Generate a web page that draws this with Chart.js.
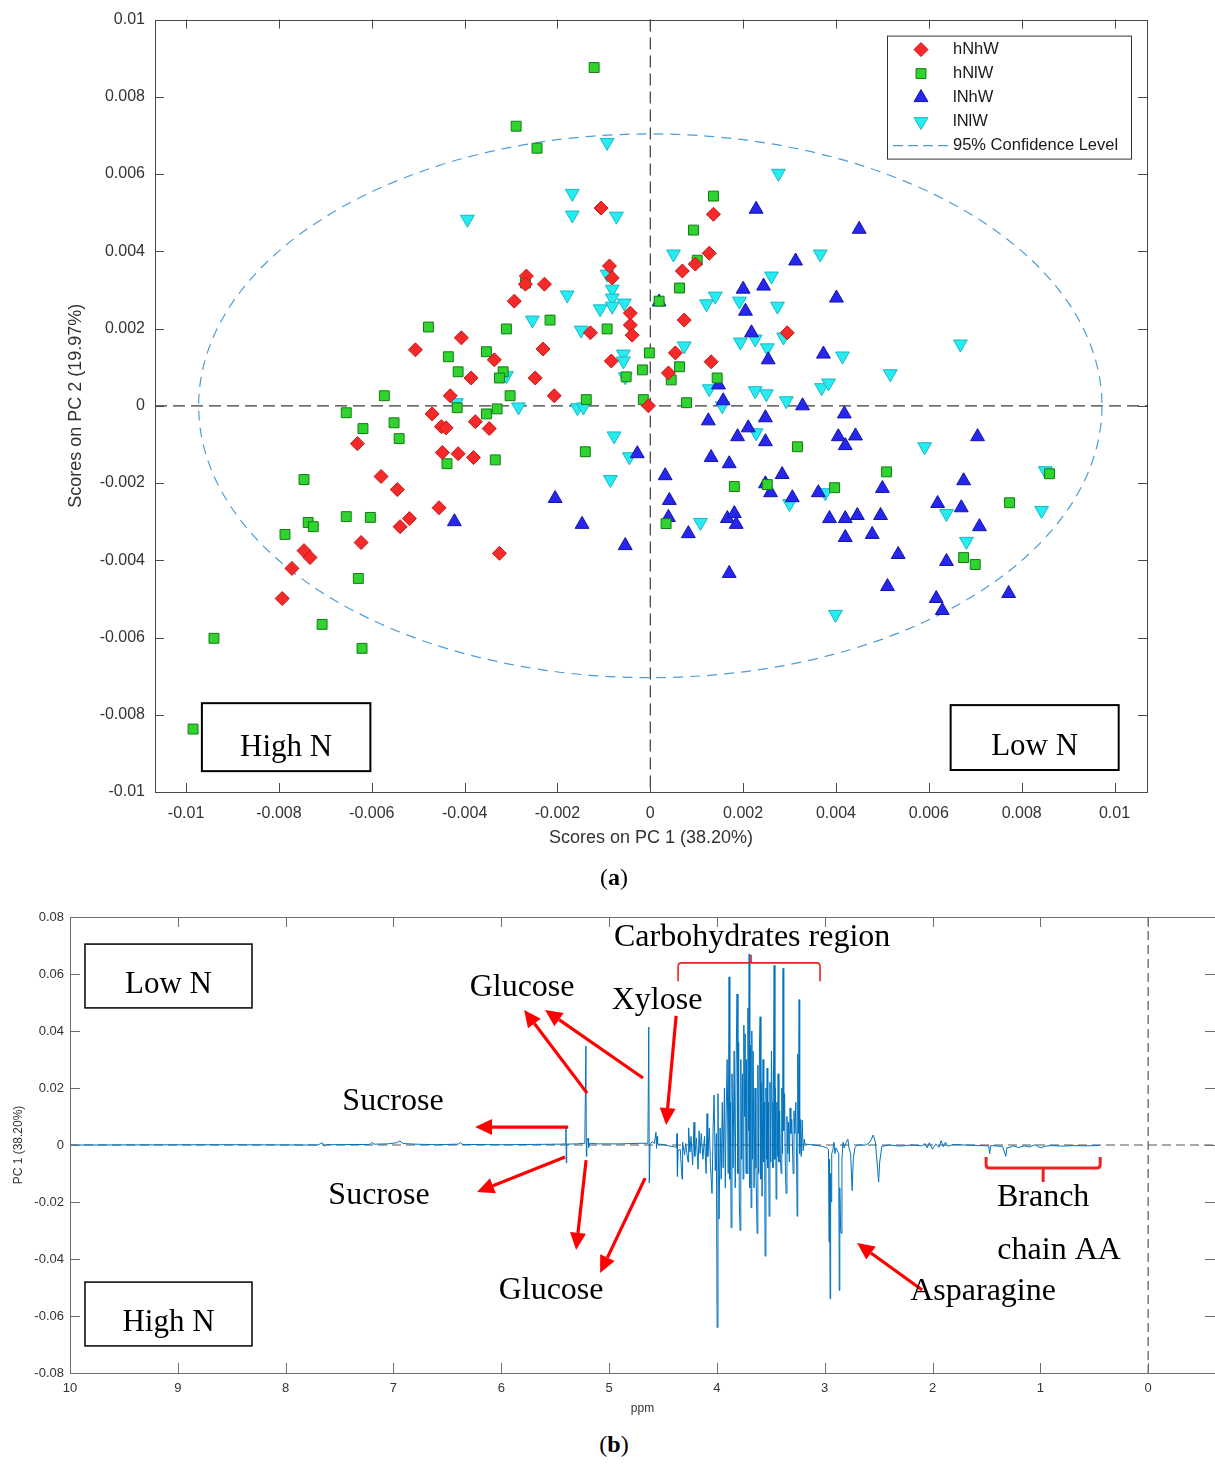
<!DOCTYPE html>
<html>
<head>
<meta charset="utf-8">
<title>PCA scores and PC1 loadings</title>
<script src="https://cdn.jsdelivr.net/npm/chart.js@4.4.0/dist/chart.umd.min.js"></script>
<style>
  body { margin: 0; background: #fff; width: 1215px; height: 1464px; position: relative; overflow: hidden; }
  canvas { position: absolute; left: 0; }
  #pca { top: 0; }
  #spec { top: 900px; }
  .cap { position: absolute; left: 0; width: 1228px; text-align: center; font: 24px "Liberation Serif", "Times New Roman", serif; color: #000; }
</style>
</head>
<body>
<canvas id="pca" width="1215" height="870"></canvas>
<div class="cap" style="top:864px">(<b>a</b>)</div>
<canvas id="spec" width="1215" height="520"></canvas>
<div class="cap" style="top:1431px">(<b>b</b>)</div>
<script>
// ---- (a) PCA scores, [PC1, PC2] per sample ----
const hNhW = [
  [-0.00106, 0.00512], [-0.00088, 0.00362], [-0.00082, 0.00331], [0.00136, 0.00496], [0.00127, 0.00395],
  [0.00097, 0.00367], [0.00069, 0.00349], [-0.00043, 0.0024], [-0.00043, 0.00209], [-0.00039, 0.00183],
  [-0.00129, 0.00189], [0.00073, 0.00222], [0.00295, 0.00189], [-0.00084, 0.00116], [0.00054, 0.00137],
  [0.00131, 0.00114], [0.00039, 0.00085], [-0.00004, 0.0], [-0.00267, 0.00336], [-0.00269, 0.00315],
  [-0.00228, 0.00315], [-0.00293, 0.00271], [-0.00407, 0.00176], [-0.00506, 0.00145], [-0.00231, 0.00147],
  [-0.00336, 0.00119], [-0.00386, 0.00072], [-0.00248, 0.00072], [-0.00431, 0.00026], [-0.00207, 0.00026],
  [-0.0047, -0.00021], [-0.0045, -0.00054], [-0.0044, -0.00057], [-0.00377, -0.00041], [-0.00347, -0.00059],
  [-0.00631, -0.00098], [-0.00448, -0.00121], [-0.00414, -0.00124], [-0.00381, -0.00134], [-0.0058, -0.00183],
  [-0.00545, -0.00217], [-0.00455, -0.00264], [-0.00519, -0.00292], [-0.00539, -0.00313], [-0.00623, -0.00354],
  [-0.00746, -0.00375], [-0.00733, -0.00393], [-0.00772, -0.00421], [-0.00793, -0.00499], [-0.00325, -0.00382]
];
const hNlW = [
  [-0.00121, 0.00876], [-0.00289, 0.00724], [-0.00244, 0.00667], [0.00136, 0.00543], [0.00093, 0.00455],
  [0.00101, 0.00377], [0.00063, 0.00305], [0.00019, 0.00271], [-0.00093, 0.00199], [-0.00002, 0.00137],
  [-0.00017, 0.00093], [-0.00052, 0.00075], [0.00063, 0.00101], [0.00045, 0.00067], [0.00144, 0.00072],
  [-0.00015, 0.00016], [0.00078, 0.00008], [-0.00138, 0.00016], [-0.00269, 0.00318], [-0.00216, 0.00222],
  [-0.00478, 0.00204], [-0.0031, 0.00199], [-0.00435, 0.00127], [-0.00353, 0.0014], [-0.00414, 0.00088],
  [-0.00317, 0.00088], [-0.00325, 0.00072], [-0.00573, 0.00026], [-0.00302, 0.00026], [-0.00416, -0.00005],
  [-0.0033, -0.00008], [-0.00353, -0.00021], [-0.00655, -0.00018], [-0.00619, -0.00059], [-0.00552, -0.00044],
  [-0.00541, -0.00085], [-0.0014, -0.00119], [-0.00334, -0.0014], [-0.00438, -0.0015], [-0.00746, -0.00191],
  [-0.00737, -0.00302], [-0.00726, -0.00313], [-0.00655, -0.00287], [-0.00603, -0.00289], [-0.00787, -0.00333],
  [-0.00629, -0.00447], [-0.00707, -0.00566], [-0.0094, -0.00602], [-0.00621, -0.00628], [-0.00985, -0.00837],
  [0.00317, -0.00106], [0.00509, -0.00171], [0.00397, -0.00212], [0.00181, -0.00209], [0.00252, -0.00204],
  [0.00034, -0.00305], [0.00774, -0.00251], [0.0086, -0.00176], [0.00675, -0.00393], [0.007, -0.00411]
];
const lNhW = [
  [0.00228, 0.00509], [0.0045, 0.00457], [0.00313, 0.00375], [0.002, 0.00302], [0.00244, 0.0031],
  [0.00401, 0.00279], [0.00019, 0.00269], [0.00205, 0.00245], [0.00218, 0.00189], [0.00254, 0.00119],
  [0.00373, 0.00134], [0.00147, 0.00054], [0.00157, 0.00013], [0.00328, 0.0], [0.00418, -0.00021],
  [0.00248, -0.00031], [0.00125, -0.00039], [0.00211, -0.00057], [0.00188, -0.0008], [0.00405, -0.0008],
  [0.00442, -0.00078], [0.0042, -0.00103], [0.00248, -0.00093], [-0.00028, -0.00124], [0.00131, -0.00134],
  [0.0017, -0.0015], [0.00032, -0.00181], [0.00284, -0.00178], [0.00248, -0.00202], [0.00259, -0.00225],
  [0.00306, -0.00238], [0.00362, -0.00225], [0.00041, -0.00245], [0.00039, -0.00289], [0.00082, -0.00331],
  [0.00166, -0.00292], [0.00181, -0.00279], [0.00185, -0.00307], [0.0017, -0.00434], [0.00386, -0.00292],
  [0.0042, -0.00292], [0.00446, -0.00284], [0.0042, -0.00341], [0.00478, -0.00333], [0.00496, -0.00284],
  [0.005, -0.00214], [0.00534, -0.00385], [0.00511, -0.00468], [0.00616, -0.00499], [0.00629, -0.0053],
  [0.00619, -0.00253], [0.00638, -0.00403], [0.0067, -0.00264], [0.00675, -0.00194], [0.00709, -0.00313],
  [0.00705, -0.0008], [0.00772, -0.00486], [-0.00205, -0.0024], [-0.00147, -0.00307], [-0.00054, -0.00362],
  [-0.00422, -0.003]
];
const lNlW = [
  [-0.00093, 0.00682], [0.00276, 0.00602], [-0.00168, 0.0055], [-0.00168, 0.00494], [-0.00073, 0.00491],
  [-0.00394, 0.00483], [0.0005, 0.00393], [0.00366, 0.00393], [0.00261, 0.00336], [-0.00093, 0.00341],
  [-0.00082, 0.00302], [-0.00082, 0.00279], [-0.00082, 0.00258], [-0.00056, 0.00266], [-0.00108, 0.00251],
  [-0.00179, 0.00287], [0.0014, 0.00284], [0.00121, 0.00264], [0.00192, 0.00271], [0.00274, 0.00258],
  [-0.00149, 0.00196], [-0.00254, 0.00222], [0.00194, 0.00165], [0.00226, 0.00173], [0.00252, 0.0015],
  [0.00287, 0.00178], [0.00414, 0.00129], [0.00073, 0.00155], [0.00668, 0.0016], [-0.00058, 0.00134],
  [-0.00058, 0.00116], [-0.00054, 0.00075], [-0.0031, 0.00078], [0.00517, 0.00083], [0.00127, 0.00044],
  [0.00226, 0.00039], [0.0025, 0.00031], [0.00293, 0.00013], [0.00369, 0.00047], [0.00384, 0.00059],
  [0.00155, 0.0], [-0.00418, 0.00008], [-0.00284, -0.00003], [-0.00157, -0.00005], [-0.00144, -0.00003],
  [-0.00078, -0.00078], [-0.00045, -0.00132], [-0.00086, -0.00191], [0.00228, -0.0007], [0.00108, -0.00302],
  [0.003, -0.00253], [0.00377, -0.00225], [0.00591, -0.00106], [0.00638, -0.00279], [0.00681, -0.00351],
  [0.00851, -0.00168], [0.00843, -0.00271], [0.00399, -0.0054]
];
const pcaTicks = [-0.01, -0.008, -0.006, -0.004, -0.002, 0, 0.002, 0.004, 0.006, 0.008, 0.01];
const pcaTickLabels = ['-0.01', '-0.008', '-0.006', '-0.004', '-0.002', '0', '0.002', '0.004', '0.006', '0.008', '0.01'];
const ellipseRadius = [0.00973, 0.00704]; // 95% confidence level, centred on 0,0

// ---- (b) PC1 loadings over the 1H NMR spectrum ----
const spectrumPpm = [
  10.0, 8.6, 7.7, 7.66, 7.64, 7.62, 7.22, 7.2, 7.18, 7.05, 6.97, 6.94, 6.91, 6.8, 6.6, 6.4, 6.38, 6.36, 6.0, 5.7,
  5.45, 5.405, 5.4, 5.397, 5.393, 5.3, 5.225, 5.215, 5.211, 5.206, 5.195, 5.19, 5.18, 5.1, 4.9, 4.7, 4.64, 4.632, 4.627, 4.62,
  4.6, 4.58, 4.565, 4.56, 4.555, 4.55, 4.5, 4.45, 4.4, 4.375, 4.37, 4.366, 4.36, 4.34, 4.323, 4.318, 4.3, 4.29, 4.267, 4.262,
  4.25, 4.24, 4.225, 4.212, 4.205, 4.19, 4.175, 4.165, 4.156, 4.145, 4.13, 4.115, 4.1, 4.091, 4.085, 4.07, 4.06, 4.045, 4.035, 4.026,
  4.015, 4.005, 3.998, 3.99, 3.98, 3.97, 3.96, 3.95, 3.942, 3.93, 3.922, 3.915, 3.905, 3.895, 3.887, 3.88, 3.875, 3.868, 3.86, 3.85,
  3.84, 3.83, 3.822, 3.813, 3.805, 3.798, 3.792, 3.785, 3.778, 3.77, 3.762, 3.757, 3.75, 3.744, 3.738, 3.73, 3.725, 3.72, 3.712, 3.706,
  3.701, 3.695, 3.689, 3.683, 3.676, 3.67, 3.664, 3.655, 3.646, 3.638, 3.627, 3.62, 3.612, 3.605, 3.599, 3.592, 3.586, 3.581, 3.572, 3.565,
  3.558, 3.553, 3.545, 3.54, 3.534, 3.528, 3.522, 3.516, 3.508, 3.5, 3.494, 3.488, 3.48, 3.469, 3.462, 3.456, 3.451, 3.444, 3.438, 3.432,
  3.425, 3.418, 3.411, 3.404, 3.398, 3.391, 3.386, 3.38, 3.372, 3.365, 3.358, 3.35, 3.342, 3.335, 3.328, 3.321, 3.314, 3.305, 3.293, 3.285,
  3.276, 3.268, 3.26, 3.256, 3.25, 3.244, 3.237, 3.232, 3.225, 3.218, 3.209, 3.2, 3.19, 3.182, 3.1, 3.02, 2.98, 2.965, 2.96, 2.955,
  2.95, 2.945, 2.94, 2.935, 2.925, 2.915, 2.905, 2.895, 2.87, 2.865, 2.86, 2.852, 2.848, 2.84, 2.83, 2.82, 2.8, 2.785, 2.775, 2.76,
  2.745, 2.735, 2.72, 2.7, 2.62, 2.58, 2.55, 2.53, 2.51, 2.5, 2.49, 2.47, 2.4, 2.3, 2.2, 2.1, 2.07, 2.05, 2.03, 2.0,
  1.97, 1.94, 1.92, 1.9, 1.88, 1.86, 1.8, 1.7, 1.55, 1.48, 1.47, 1.46, 1.35, 1.32, 1.31, 1.28, 1.25, 1.2, 1.15, 1.1,
  1.05, 1.0, 0.95, 0.9, 0.8, 0.7, 0.6, 0.45
];
const spectrumPc1 = [
  0, 0.0001, 0, 0.0008, -0.0004, 0.0001, 0.0002, 0.0009, 0.0003, 0.0004, 0.0008, 0.0014, 0.0005, 0.0003, 0.0001, 0.0003, 0.0009, 0.0002, 0.0001, 0.0002,
  0.0003, 0.0004, 0.0063, -0.0063, 0.0003, 0.0004, 0.0006, 0.0347, -0.004, 0.0012, 0.0024, -0.001, 0.0006, 0.0004, 0.0004, 0.0006, 0.0006, 0.0414, -0.0133, 0.0002,
  0.0012, 0.0005, 0.0045, -0.0012, 0.003, 0.0003, 0.0002, -0.0003, -0.0006, -0.0008, 0.004, -0.011, -0.002, -0.0015, -0.012, 0.001, -0.0035, 0.0005, -0.006, 0.006,
  -0.0025, 0.003, -0.007, 0.008, -0.004, 0.0025, -0.0085, 0.005, -0.003, 0.004, -0.005, 0.003, -0.01, 0.011, -0.004, 0.006, -0.007, -0.017, 0.006, 0.0175,
  -0.009, 0.004, -0.064, 0.018, -0.026, 0.006, -0.012, 0.015, -0.008, 0.02, -0.015, 0.0088, 0.03, -0.01, 0.059, -0.012, 0.015, -0.029, 0.025, -0.008,
  0.033, -0.015, 0.028, 0.053, -0.01, 0.036, -0.02, -0.03, 0.03, -0.005, 0.025, -0.012, 0.042, 0.01, 0.039, -0.01, 0.03, -0.01, 0.048, 0.005,
  0.067, -0.015, 0.035, -0.022, 0.04, -0.005, 0.033, -0.015, 0.02, -0.008, -0.031, 0.028, -0.01, 0.035, 0.045, -0.012, 0.022, -0.018, 0.03, -0.006,
  0.015, -0.039, 0.02, -0.005, 0.027, -0.008, 0.015, -0.025, 0.022, -0.006, 0.033, 0.015, -0.008, 0.063, -0.005, 0.02, -0.019, 0.015, -0.004, 0.025,
  -0.006, 0.012, -0.005, -0.01, 0.02, -0.003, 0.062, 0.005, 0.018, -0.008, -0.017, 0.01, -0.003, 0.008, -0.006, 0.013, 0.004, 0.009, -0.01, 0.012,
  0.004, 0.015, -0.008, -0.025, 0.032, 0.004, 0.051, -0.003, 0.009, -0.004, 0.0088, -0.002, 0.002, 0.0003, 0, -0.0005, -0.001, -0.0015, -0.034, -0.005,
  -0.054, -0.01, -0.02, -0.003, -0.002, 0.001, -0.003, -0.001, -0.003, -0.051, -0.015, -0.03, -0.031, -0.005, 0.001, -0.001, 0.001, 0.002, -0.001, -0.003,
  -0.016, -0.005, -0.001, 0, 0, 0.001, 0.0035, 0.001, -0.008, -0.013, -0.006, -0.0005, 0, -0.0004, 0, -0.0003, 0.0005, -0.001, 0.0008, -0.0015,
  0.0004, -0.0008, 0.0015, -0.0006, 0.001, -0.0004, 0.0002, 0, -0.0002, -0.0003, -0.003, -0.0002, -0.0005, -0.004, -0.001, -0.0008, -0.0003, -0.0009, -0.0003, -0.0007,
  0.0001, -0.001, -0.0004, -0.0002, -0.0004, -0.0002, -0.0003, -0.0002
];
const ppmTicks = [10, 9, 8, 7, 6, 5, 4, 3, 2, 1, 0];
const pc1Ticks = [-0.08, -0.06, -0.04, -0.02, 0, 0.02, 0.04, 0.06, 0.08];
const pc1TickLabels = ['-0.08', '-0.06', '-0.04', '-0.02', '0', '0.02', '0.04', '0.06', '0.08'];

const sans = '"Liberation Sans", Arial, sans-serif';
const serif = '"Liberation Serif", "Times New Roman", serif';

// marker look of each group
const groups = [
  { label: 'hNhW', data: hNhW, shape: 'rectRot', r: 7, rot: 0, fill: '#f42a2a', edge: '#c81616' },
  { label: 'hNlW', data: hNlW, shape: 'rect', r: 7, rot: 0, fill: '#2fd42f', edge: '#147a14' },
  { label: 'lNhW', data: lNhW, shape: 'triangle', r: 8, rot: 0, fill: '#2626ee', edge: '#1414a8' },
  { label: 'lNlW', data: lNlW, shape: 'triangle', r: 8, rot: 180, fill: '#26ecf0', edge: '#18b8c8' }
];

function drawMarker(ctx, g, x, y) {
  ctx.save();
  ctx.fillStyle = g.fill; ctx.strokeStyle = g.edge; ctx.lineWidth = 1;
  ctx.beginPath();
  if (g.shape === 'rectRot') {
    ctx.moveTo(x, y - g.r); ctx.lineTo(x + g.r, y); ctx.lineTo(x, y + g.r); ctx.lineTo(x - g.r, y);
  } else if (g.shape === 'rect') {
    const s = g.r * Math.SQRT1_2;
    ctx.rect(x - s, y - s, 2 * s, 2 * s);
  } else {
    const d = g.rot ? -1 : 1, h = g.r * 0.866;
    ctx.moveTo(x, y - d * g.r); ctx.lineTo(x + h, y + d * g.r / 2); ctx.lineTo(x - h, y + d * g.r / 2);
  }
  ctx.closePath(); ctx.fill(); ctx.stroke();
  ctx.restore();
}

// box round the plot with MATLAB style inward ticks on all four sides
function drawFrame(chart, xt, yt, len, color) {
  const { ctx, chartArea: a, scales: { x, y } } = chart;
  ctx.save();
  ctx.strokeStyle = color; ctx.lineWidth = 1; ctx.setLineDash([]);
  ctx.strokeRect(Math.round(a.left) + 0.5, Math.round(a.top) + 0.5, Math.round(a.right - a.left), Math.round(a.bottom - a.top));
  ctx.beginPath();
  xt.forEach(v => {
    const px = Math.round(x.getPixelForValue(v)) + 0.5;
    ctx.moveTo(px, a.bottom); ctx.lineTo(px, a.bottom - len);
    ctx.moveTo(px, a.top); ctx.lineTo(px, a.top + len);
  });
  yt.forEach(v => {
    const py = Math.round(y.getPixelForValue(v)) + 0.5;
    ctx.moveTo(a.left, py); ctx.lineTo(a.left + len, py);
    ctx.moveTo(a.right, py); ctx.lineTo(a.right - len, py);
  });
  ctx.stroke();
  ctx.restore();
}

function zeroLines(chart, color, dash) {
  const { ctx, chartArea: a, scales: { x, y } } = chart;
  const px = x.getPixelForValue(0), py = y.getPixelForValue(0);
  ctx.save();
  ctx.strokeStyle = color; ctx.lineWidth = 1.2; ctx.setLineDash(dash);
  ctx.beginPath();
  ctx.moveTo(a.left, py); ctx.lineTo(a.right, py);
  ctx.moveTo(px, a.top); ctx.lineTo(px, a.bottom);
  ctx.stroke();
  ctx.restore();
}

function labelBox(ctx, x1, y1, x2, y2, text, size, lw) {
  ctx.save();
  ctx.fillStyle = '#fff'; ctx.fillRect(x1, y1, x2 - x1, y2 - y1);
  ctx.strokeStyle = '#000'; ctx.lineWidth = lw; ctx.strokeRect(x1, y1, x2 - x1, y2 - y1);
  ctx.fillStyle = '#000'; ctx.font = size + 'px ' + serif;
  ctx.textAlign = 'center'; ctx.textBaseline = 'alphabetic';
  ctx.fillText(text, (x1 + x2) / 2, y2 - 15);
  ctx.restore();
}

const pcaDecor = {
  id: 'pcaDecor',
  beforeDatasetsDraw(chart) {
    const { ctx, scales: { x, y } } = chart;
    zeroLines(chart, '#3a3a3a', [12, 6]);
    ctx.save();
    ctx.strokeStyle = '#4d9dd6'; ctx.lineWidth = 1.2; ctx.setLineDash([10, 7]);
    ctx.beginPath();
    ctx.ellipse(x.getPixelForValue(0), y.getPixelForValue(0),
      x.getPixelForValue(ellipseRadius[0]) - x.getPixelForValue(0),
      y.getPixelForValue(0) - y.getPixelForValue(ellipseRadius[1]), 0, 0, Math.PI * 2);
    ctx.stroke();
    ctx.restore();
  },
  afterDatasetsDraw(chart) {
    const { ctx, chartArea: a, scales: { x, y } } = chart;
    drawFrame(chart, pcaTicks, pcaTicks, 9, '#4a4a4a');

    // group boxes
    labelBox(ctx, x.getPixelForValue(-0.00966), y.getPixelForValue(-0.0077), x.getPixelForValue(-0.00603), y.getPixelForValue(-0.00946), 'High N', 31, 2);
    labelBox(ctx, x.getPixelForValue(0.00647), y.getPixelForValue(-0.00775), x.getPixelForValue(0.01009), y.getPixelForValue(-0.00943), 'Low N', 31, 2);

    // legend
    const lx = a.right - 260, ly = a.top + 16, rowH = 24;
    ctx.save();
    ctx.fillStyle = '#fff'; ctx.fillRect(lx, ly, 244, 123);
    ctx.strokeStyle = '#333'; ctx.lineWidth = 1; ctx.strokeRect(lx + 0.5, ly + 0.5, 244, 123);
    ctx.font = '16.5px ' + sans; ctx.fillStyle = '#1a1a1a'; ctx.textBaseline = 'middle';
    groups.forEach((g, i) => {
      const ry = ly + 14 + i * rowH;
      drawMarker(ctx, g, lx + 34, ry);
      ctx.fillText(g.label, lx + 66, ry);
    });
    const ry = ly + 14 + 4 * rowH;
    ctx.strokeStyle = '#4d9dd6'; ctx.setLineDash([10, 5]); ctx.lineWidth = 1.2;
    ctx.beginPath(); ctx.moveTo(lx + 6, ry); ctx.lineTo(lx + 64, ry); ctx.stroke();
    ctx.fillText('95% Confidence Level', lx + 66, ry);
    ctx.restore();
  }
};

new Chart(document.getElementById('pca'), {
  type: 'scatter',
  data: {
    datasets: groups.map(g => ({
      label: g.label,
      data: g.data.map(([px, py]) => ({ x: px, y: py })),
      pointStyle: g.shape,
      pointRadius: g.r,
      pointRotation: g.rot,
      backgroundColor: g.fill,
      borderColor: g.edge,
      borderWidth: 1
    }))
  },
  options: {
    responsive: false,
    animation: false,
    layout: { padding: { left: 65, right: 68, top: 18, bottom: 21 } },
    plugins: { legend: { display: false }, tooltip: { enabled: false } },
    scales: {
      x: {
        type: 'linear', min: -0.01067, max: 0.0107,
        grid: { display: false, drawTicks: false }, border: { display: false },
        afterBuildTicks: s => { s.ticks = pcaTicks.map(v => ({ value: v })); },
        afterFit: s => { s.height = 57; },
        ticks: { autoSkip: false, maxRotation: 0, padding: 12, color: '#333', font: { family: sans, size: 16 },
          callback: (v, i) => pcaTickLabels[i] },
        title: { display: true, text: 'Scores on PC 1 (38.20%)', padding: 0, color: '#333', font: { family: sans, size: 18 } }
      },
      y: {
        type: 'linear', min: -0.01, max: 0.01,
        grid: { display: false, drawTicks: false }, border: { display: false },
        afterBuildTicks: s => { s.ticks = pcaTicks.map(v => ({ value: v })); },
        afterFit: s => { s.width = 90; },
        ticks: { autoSkip: false, padding: 10, color: '#333', font: { family: sans, size: 16 },
          callback: (v, i) => pcaTickLabels[i] },
        title: { display: true, text: 'Scores on PC 2 (19.97%)', padding: 0, color: '#333', font: { family: sans, size: 18 } }
      }
    }
  },
  plugins: [pcaDecor]
});

// ---- (b) annotations, placed in ppm / loading units ----
const specArrows = [
  [4.685, 0.0235, 5.594, 0.0474], [5.204, 0.0182, 5.788, 0.0474],
  [5.38, 0.0063, 6.243, 0.0063], [5.408, -0.0042, 6.224, -0.0165],
  [5.213, -0.0053, 5.306, -0.0368], [4.666, -0.0116, 5.083, -0.0449],
  [4.378, 0.0453, 4.471, 0.007], [2.096, -0.0509, 2.699, -0.0344]
];
const specLabels = [
  ['Carbohydrates region', 3.673, 0.0726], ['Glucose', 5.807, 0.0551], ['Xylose', 4.555, 0.0505],
  ['Sucrose', 7.004, 0.0151], ['Sucrose', 7.134, -0.0179], ['Glucose', 5.538, -0.0512],
  ['Branch', 0.974, -0.0186], ['chain AA', 0.826, -0.0372], ['Asparagine', 1.531, -0.0516]
];

function arrow(ctx, x1, y1, x2, y2) {
  const ang = Math.atan2(y2 - y1, x2 - x1), head = 17, half = 8;
  const bx = x2 - head * Math.cos(ang), by = y2 - head * Math.sin(ang);
  ctx.beginPath(); ctx.moveTo(x1, y1); ctx.lineTo(bx, by); ctx.stroke();
  ctx.beginPath(); ctx.moveTo(x2, y2);
  ctx.lineTo(bx + half * Math.sin(ang), by - half * Math.cos(ang));
  ctx.lineTo(bx - half * Math.sin(ang), by + half * Math.cos(ang));
  ctx.closePath(); ctx.fill();
}

const specDecor = {
  id: 'specDecor',
  beforeDatasetsDraw(chart) {
    zeroLines(chart, '#555', [9, 5]);
  },
  afterDatasetsDraw(chart) {
    const { ctx, scales: { x, y } } = chart;
    const X = v => x.getPixelForValue(v), Y = v => y.getPixelForValue(v);
    drawFrame(chart, ppmTicks, pc1Ticks, 10, '#6e6e6e');

    labelBox(ctx, X(9.861), Y(0.0705), X(8.312), Y(0.0481), 'Low N', 31, 1.5);
    labelBox(ctx, X(9.861), Y(-0.0481), X(8.312), Y(-0.0705), 'High N', 31, 1.5);

    ctx.save();
    ctx.strokeStyle = '#ff0000'; ctx.fillStyle = '#ff0000'; ctx.lineWidth = 3.2; ctx.lineCap = 'butt';
    specArrows.forEach(([a, b, c, d]) => arrow(ctx, X(a), Y(b), X(c), Y(d)));

    // braces
    ctx.lineWidth = 1.6; ctx.strokeStyle = '#ee2222';
    ctx.beginPath();
    ctx.moveTo(X(4.36), Y(0.0575)); ctx.lineTo(X(4.36), Y(0.0625)); ctx.quadraticCurveTo(X(4.36), Y(0.0639), X(4.33), Y(0.0639));
    ctx.lineTo(X(3.073), Y(0.0639)); ctx.quadraticCurveTo(X(3.043), Y(0.0639), X(3.043), Y(0.0625)); ctx.lineTo(X(3.043), Y(0.0575));
    ctx.moveTo(X(3.683), Y(0.0639)); ctx.lineTo(X(3.683), Y(0.0667));
    ctx.stroke();
    ctx.lineWidth = 3;
    ctx.beginPath();
    ctx.moveTo(X(1.503), Y(-0.0042)); ctx.lineTo(X(1.503), Y(-0.007)); ctx.quadraticCurveTo(X(1.503), Y(-0.0081), X(1.47), Y(-0.0081));
    ctx.lineTo(X(0.478), Y(-0.0081)); ctx.quadraticCurveTo(X(0.445), Y(-0.0081), X(0.445), Y(-0.007)); ctx.lineTo(X(0.445), Y(-0.0042));
    ctx.moveTo(X(0.974), Y(-0.0081)); ctx.lineTo(X(0.974), Y(-0.013));
    ctx.stroke();

    ctx.fillStyle = '#000'; ctx.font = '32px ' + serif; ctx.textAlign = 'center'; ctx.textBaseline = 'middle';
    specLabels.forEach(([t, a, b]) => ctx.fillText(t, X(a), Y(b)));
    ctx.restore();
  }
};

new Chart(document.getElementById('spec'), {
  type: 'line',
  data: {
    datasets: [{
      data: spectrumPpm.map((p, i) => ({ x: p, y: spectrumPc1[i] })),
      borderColor: '#0072bd',
      borderWidth: 1,
      pointRadius: 0,
      tension: 0
    }]
  },
  options: {
    responsive: false,
    animation: false,
    layout: { padding: { left: 11, right: 0, top: 17, bottom: 4 } },
    plugins: { legend: { display: false }, tooltip: { enabled: false } },
    scales: {
      x: {
        type: 'linear', reverse: true, min: -0.62, max: 10,
        grid: { display: false, drawTicks: false }, border: { display: false },
        afterBuildTicks: s => { s.ticks = ppmTicks.map(v => ({ value: v })); },
        afterFit: s => { s.height = 43; },
        ticks: { autoSkip: false, maxRotation: 0, padding: 8, color: '#333', font: { family: sans, size: 13 },
          callback: v => String(v) },
        title: { display: true, text: 'ppm', padding: 0, color: '#333', font: { family: sans, size: 12 } }
      },
      y: {
        type: 'linear', min: -0.08, max: 0.08,
        grid: { display: false, drawTicks: false }, border: { display: false },
        afterBuildTicks: s => { s.ticks = pc1Ticks.map(v => ({ value: v })); },
        afterFit: s => { s.width = 59; },
        ticks: { autoSkip: false, padding: 6, color: '#333', font: { family: sans, size: 13 },
          callback: (v, i) => pc1TickLabels[i] },
        title: { display: true, text: 'PC 1 (38.20%)', padding: 0, color: '#333', font: { family: sans, size: 12 } }
      }
    }
  },
  plugins: [specDecor]
});
</script>
</body>
</html>
